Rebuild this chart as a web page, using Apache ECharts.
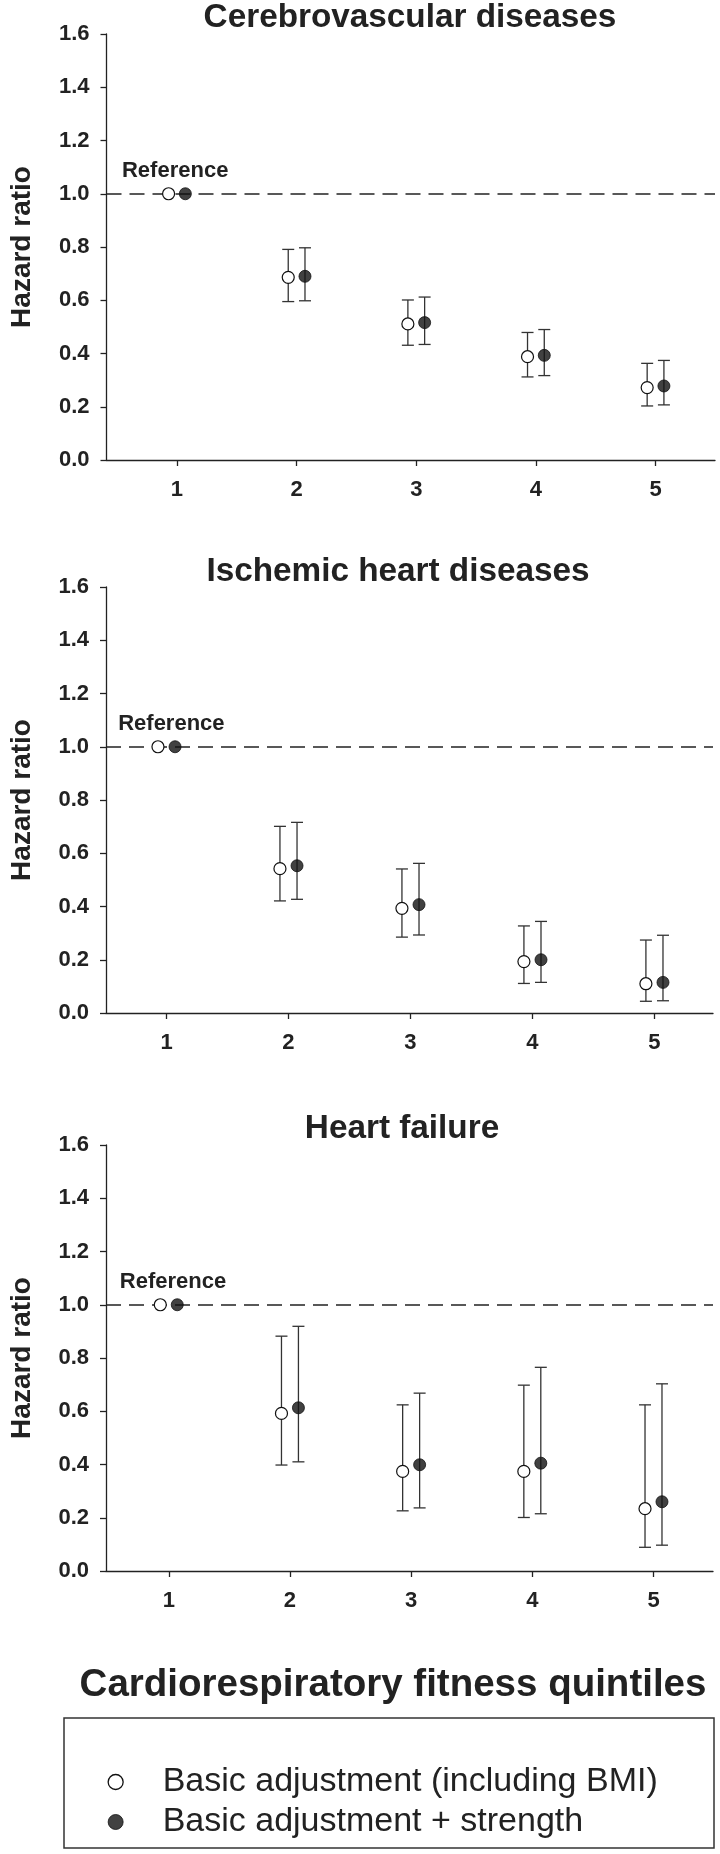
<!DOCTYPE html>
<html>
<head>
<meta charset="utf-8" />
<title>Hazard ratios by fitness quintile</title>
<script src="https://cdn.jsdelivr.net/npm/echarts@6/dist/echarts.min.js"></script>
<style>
body { margin: 0; background: #fff; }
</style>
</head>
<body>
<div id="chart" style="width: 720px; height: 1854px;"></div>
<script type="text/javascript">
// quintiles 1..5, first quintile is the reference (HR = 1, no CI)
var quintiles = [1, 2, 3, 4, 5];
var seriesNames = ['Basic adjustment (including BMI)', 'Basic adjustment + strength'];

// Cerebrovascular diseases
var cvBasic   = [1.00, 0.686, 0.511, 0.388, 0.272];
var cvBasicLo = [null, 0.595, 0.431, 0.312, 0.203];
var cvBasicHi = [null, 0.791, 0.601, 0.479, 0.363];
var cvStr     = [1.00, 0.690, 0.516, 0.393, 0.278];
var cvStrLo   = [null, 0.598, 0.434, 0.317, 0.207];
var cvStrHi   = [null, 0.797, 0.612, 0.490, 0.374];

// Ischemic heart diseases
var ihBasic   = [1.00, 0.542, 0.393, 0.193, 0.110];
var ihBasicLo = [null, 0.421, 0.285, 0.111, 0.044];
var ihBasicHi = [null, 0.701, 0.541, 0.327, 0.274];
var ihStr     = [1.00, 0.553, 0.407, 0.200, 0.115];
var ihStrLo   = [null, 0.427, 0.293, 0.115, 0.046];
var ihStrHi   = [null, 0.716, 0.562, 0.344, 0.292];

// Heart failure
var hfBasic   = [1.00, 0.592, 0.374, 0.374, 0.234];
var hfBasicLo = [null, 0.398, 0.226, 0.201, 0.089];
var hfBasicHi = [null, 0.882, 0.624, 0.698, 0.624];
var hfStr     = [1.00, 0.613, 0.399, 0.405, 0.260];
var hfStrLo   = [null, 0.410, 0.237, 0.215, 0.097];
var hfStrHi   = [null, 0.919, 0.668, 0.765, 0.703];

var FONT = '"Liberation Sans", Arial, Helvetica, sans-serif';
var INK = '#222';
var DODGE = 0.07;

var panels = [
  { title: 'Cerebrovascular diseases', tx: 410, ty: 18, left: 106.5, top: 34, width: 608.5, xMin: 0.411, xMax: 5.497, refX: 0.985,
    basic: cvBasic, basicLo: cvBasicLo, basicHi: cvBasicHi, str: cvStr, strLo: cvStrLo, strHi: cvStrHi },
  { title: 'Ischemic heart diseases', tx: 398, ty: 572, left: 106, top: 587, width: 607, xMin: 0.504, xMax: 5.48, refX: 1.04,
    basic: ihBasic, basicLo: ihBasicLo, basicHi: ihBasicHi, str: ihStr, strLo: ihStrLo, strHi: ihStrHi },
  { title: 'Heart failure', tx: 402, ty: 1129, left: 101.5, top: 1145, width: 611.5, xMin: 0.482, xMax: 5.491, refX: 1.035,
    basic: hfBasic, basicLo: hfBasicLo, basicHi: hfBasicHi, str: hfStr, strLo: hfStrLo, strHi: hfStrHi }
];

function points(vals, shift) {
  return quintiles.map(function (q, i) { return [q + shift, vals[i]]; });
}
function bars(lo, hi, shift) {
  var out = [];
  quintiles.forEach(function (q, i) {
    if (lo[i] != null) out.push([q + shift, lo[i], hi[i]]);
  });
  return out;
}

function renderErr(params, api) {
  var x = api.value(0);
  var top = api.coord([x, api.value(2)]);
  var bot = api.coord([x, api.value(1)]);
  var hw = 6;
  var st = { stroke: '#333', lineWidth: 1.3 };
  return {
    type: 'group',
    children: [
      { type: 'line', shape: { x1: top[0], y1: top[1], x2: bot[0], y2: bot[1] }, style: st },
      { type: 'line', shape: { x1: top[0] - hw, y1: top[1], x2: top[0] + hw, y2: top[1] }, style: st },
      { type: 'line', shape: { x1: bot[0] - hw, y1: bot[1], x2: bot[0] + hw, y2: bot[1] }, style: st }
    ]
  };
}

var grid = [], xAxis = [], yAxis = [], series = [], graphic = [];

panels.forEach(function (p, k) {
  grid.push({ left: p.left, top: p.top, width: p.width, height: 426 });
  xAxis.push({
    gridIndex: k, type: 'value', min: p.xMin, max: p.xMax,
    axisLine: { onZero: false, lineStyle: { color: INK, width: 1.3 } },
    axisTick: { show: true, length: 6, customValues: quintiles, lineStyle: { color: INK, width: 1.3 } },
    axisLabel: { customValues: quintiles, margin: 19, color: INK, fontFamily: FONT, fontWeight: 'bold', fontSize: 22 },
    splitLine: { show: false }
  });
  yAxis.push({
    gridIndex: k, type: 'value', min: 0, max: 1.6, interval: 0.2,
    name: 'Hazard ratio', nameLocation: 'middle', nameGap: 70,
    nameTextStyle: { color: INK, fontFamily: FONT, fontWeight: 'bold', fontSize: 28 },
    axisLine: { show: true, lineStyle: { color: INK, width: 1.3 } },
    axisTick: { show: true, length: 6, lineStyle: { color: INK, width: 1.3 } },
    axisLabel: { margin: 17, color: INK, fontFamily: FONT, fontWeight: 'bold', fontSize: 22,
      formatter: function (v) { return v.toFixed(1); } },
    splitLine: { show: false }
  });

  // dashed reference line at HR = 1
  series.push({
    type: 'line', xAxisIndex: k, yAxisIndex: k, data: [], z: 1, silent: true,
    markLine: {
      silent: true, symbol: ['none', 'none'], animation: false,
      label: { show: false },
      lineStyle: { type: [15, 8], color: '#222', width: 1.5 },
      data: [{ yAxis: 1 }]
    }
  });
  series.push({ type: 'custom', xAxisIndex: k, yAxisIndex: k, renderItem: renderErr, z: 2,
    data: bars(p.basicLo, p.basicHi, -DODGE) });
  series.push({ type: 'custom', xAxisIndex: k, yAxisIndex: k, renderItem: renderErr, z: 2,
    data: bars(p.strLo, p.strHi, DODGE) });
  series.push({
    name: seriesNames[0], type: 'scatter', xAxisIndex: k, yAxisIndex: k, z: 5,
    symbol: 'circle', symbolSize: 12,
    itemStyle: { color: '#fff', borderColor: '#111', borderWidth: 1.2, opacity: 1 },
    data: points(p.basic, -DODGE),
    markPoint: {
      silent: true, symbol: 'circle', symbolSize: 0.1, animation: false,
      itemStyle: { color: 'rgba(0,0,0,0)' },
      label: { show: true, position: 'inside', offset: [0, -23], formatter: 'Reference',
        color: INK, fontFamily: FONT, fontWeight: 'bold', fontSize: 22 },
      data: [{ coord: [p.refX, 1] }]
    }
  });
  series.push({
    name: seriesNames[1], type: 'scatter', xAxisIndex: k, yAxisIndex: k, z: 5,
    symbol: 'circle', symbolSize: 12,
    itemStyle: { color: '#111', borderColor: '#111', borderWidth: 1 },
    data: points(p.str, DODGE)
  });

  graphic.push({
    type: 'text', x: p.tx, y: p.ty,
    style: { text: p.title, fill: INK, font: 'bold 33.3px ' + FONT, align: 'center', verticalAlign: 'middle' }
  });
});

graphic.push({
  type: 'text', x: 393, y: 1685,
  style: { text: 'Cardiorespiratory fitness quintiles', fill: INK, font: 'bold 38.5px ' + FONT,
    align: 'center', verticalAlign: 'middle' }
});
graphic.push({
  type: 'rect', shape: { x: 64, y: 1718, width: 650, height: 130 },
  style: { fill: 'none', stroke: '#333', lineWidth: 1.5 }
});

var myChart = echarts.init(document.getElementById('chart'));
var option = {
  animation: false,
  backgroundColor: '#fff',
  grid: grid,
  xAxis: xAxis,
  yAxis: yAxis,
  legend: {
    orient: 'vertical', left: 107.5, top: 1765, padding: 0,
    itemWidth: 84, itemHeight: 15, itemGap: 6, selectedMode: false,
    textStyle: { color: INK, fontFamily: FONT, fontSize: 34 },
    data: [
      { name: seriesNames[0], icon: 'circle', itemStyle: { color: '#fff', borderColor: '#111', borderWidth: 1.3 } },
      { name: seriesNames[1], icon: 'circle', itemStyle: { color: '#111', borderColor: '#111', borderWidth: 1 } }
    ]
  },
  graphic: graphic,
  series: series
};
option && myChart.setOption(option);
</script>
</body>
</html>
